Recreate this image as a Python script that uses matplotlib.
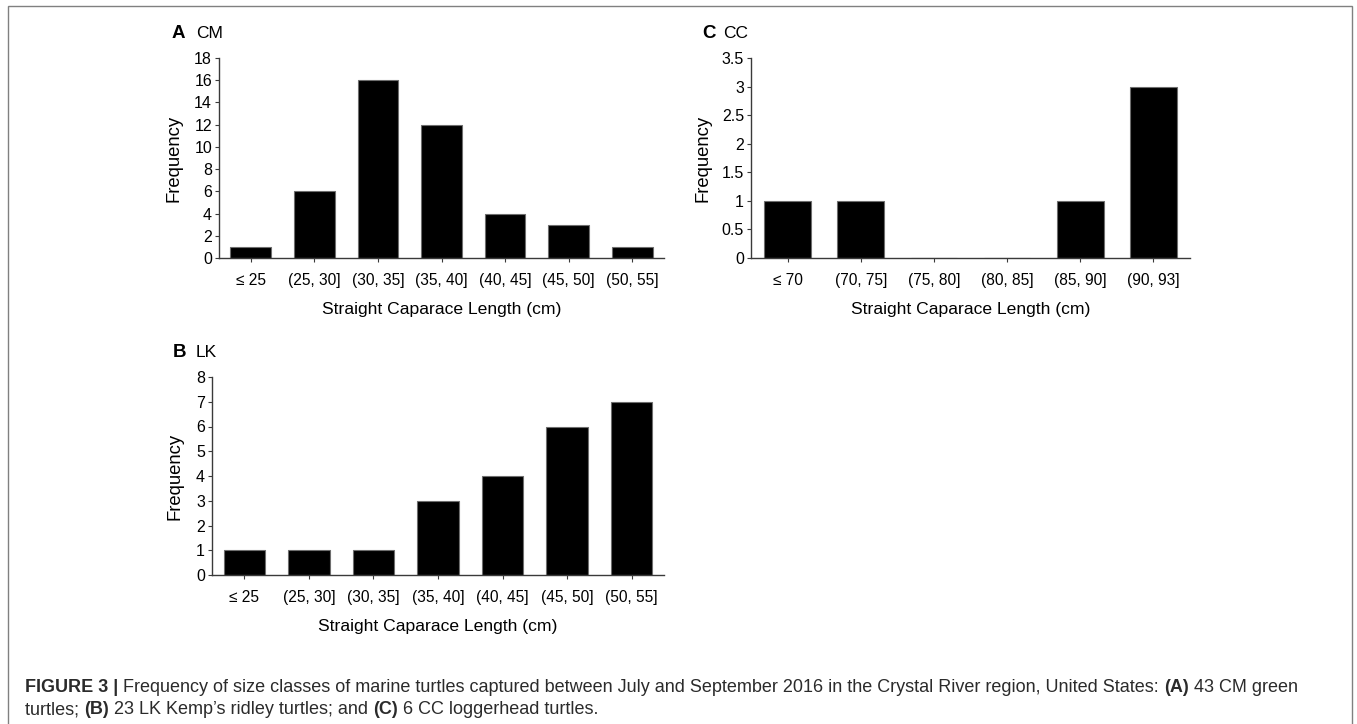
import matplotlib
matplotlib.use("Agg")
import matplotlib.pyplot as plt
from matplotlib.patches import Rectangle
import numpy as np

plt.rcParams.update({
    'font.family': ['Liberation Sans', 'DejaVu Sans'],
    'axes.linewidth': 1.0,
    'axes.edgecolor': '#3a3a3a',
    'xtick.direction': 'out', 'ytick.direction': 'out',
    'xtick.major.size': 3, 'ytick.major.size': 3,
    'xtick.major.width': 0.8, 'ytick.major.width': 0.8,
    'xtick.color': '#3a3a3a', 'ytick.color': '#3a3a3a',
    'xtick.labelcolor': 'black', 'ytick.labelcolor': 'black',
    'xtick.labelsize': 11.2, 'ytick.labelsize': 11.5,
})

# ------------------------------
# Data
# ------------------------------
small_classes = ['≤ 25', '(25, 30]', '(30, 35]', '(35, 40]', '(40, 45]', '(45, 50]', '(50, 55]']
cm_counts = [1, 6, 16, 12, 4, 3, 1]
lk_counts = [1, 1, 1, 3, 4, 6, 7]

cc_classes = ['≤ 70', '(70, 75]', '(75, 80]', '(80, 85]', '(85, 90]', '(90, 93]']
cc_counts = [1, 1, 0, 0, 1, 3]

cm_yticks = np.arange(0, 19, 2)
lk_yticks = np.arange(0, 9, 1)
cc_yticks = np.arange(0, 3.51, 0.5)
cc_yticklabels = ['0', '0.5', '1', '1.5', '2', '2.5', '3', '3.5']

xlabel = 'Straight Caparace Length (cm)'
ylabel = 'Frequency'

W, H = 1357, 724
fig = plt.figure(figsize=(W / 100, H / 100), dpi=100)


def px_axes(left, right, top, bottom):
    return fig.add_axes([left / W, 1 - bottom / H, (right - left) / W, (bottom - top) / H])


def draw_hist(ax, classes, counts, yticks, yticklabels=None, ylab_x=-0.08):
    x = np.arange(len(classes))
    ax.bar(x, counts, width=0.64, color='black', edgecolor='#6e6e6e', linewidth=0.8)
    ax.set_xlim(-0.5, len(classes) - 0.5)
    ax.set_ylim(0, yticks[-1])
    ax.set_xticks(x)
    ax.set_xticklabels(classes)
    ax.set_yticks(yticks)
    if yticklabels is not None:
        ax.set_yticklabels(yticklabels)
    ax.tick_params(axis='x', pad=8)
    ax.tick_params(axis='y', pad=2)
    for s in ('top', 'right'):
        ax.spines[s].set_visible(False)
    ax.set_xlabel(xlabel, fontsize=12.6, labelpad=10)
    ax.set_ylabel(ylabel, fontsize=13.3)
    ax.yaxis.set_label_coords(ylab_x, 0.5)


ax_a = px_axes(219, 664, 58, 258)
draw_hist(ax_a, small_classes, cm_counts, cm_yticks, ylab_x=-0.081)

ax_c = px_axes(751, 1190, 58, 258)
draw_hist(ax_c, cc_classes, cc_counts, cc_yticks, cc_yticklabels, ylab_x=-0.091)

ax_b = px_axes(212, 664, 377, 575)
draw_hist(ax_b, small_classes, lk_counts, lk_yticks, ylab_x=-0.064)

# panel letters
for letter, name, xl, xn, yc in [('A', 'CM', 172, 196, 34),
                                  ('C', 'CC', 702, 723, 34),
                                  ('B', 'LK', 173, 196, 353)]:
    fig.text(xl / W, 1 - yc / H, letter, fontsize=13.5, fontweight='bold', va='center', ha='left')
    fig.text(xn / W, 1 - yc / H, name, fontsize=12.5, va='center', ha='left')

# outer frame
fig.patches.append(Rectangle((8 / W, -0.02), (1352 - 8) / W, 1 - 6 / H + 0.02,
                             transform=fig.transFigure, fill=False,
                             edgecolor='#808080', linewidth=1.0))

# caption with mixed weights
renderer = fig.canvas.get_renderer()
cap_size = 12.95
cap_color = '#2b2b2b'


def rich_line(x_px, y_px, parts):
    x = x_px
    for txt, bold in parts:
        t = fig.text(x / W, 1 - y_px / H, txt, fontsize=cap_size, color=cap_color,
                     fontweight='bold' if bold else 'normal', va='center', ha='left')
        x += t.get_window_extent(renderer).width


rich_line(25, 687, [('FIGURE 3 |', True),
                    (' Frequency of size classes of marine turtles captured between July and September '
                     '2016 in the Crystal River region, United States: ', False),
                    ('(A)', True), (' 43 CM green', False)])
rich_line(25, 710, [('turtles; ', False), ('(B)', True),
                    (" 23 LK Kemp\u2019s ridley turtles; and ", False), ('(C)', True),
                    (' 6 CC loggerhead turtles.', False)])

fig.savefig('out.png', dpi=100)
